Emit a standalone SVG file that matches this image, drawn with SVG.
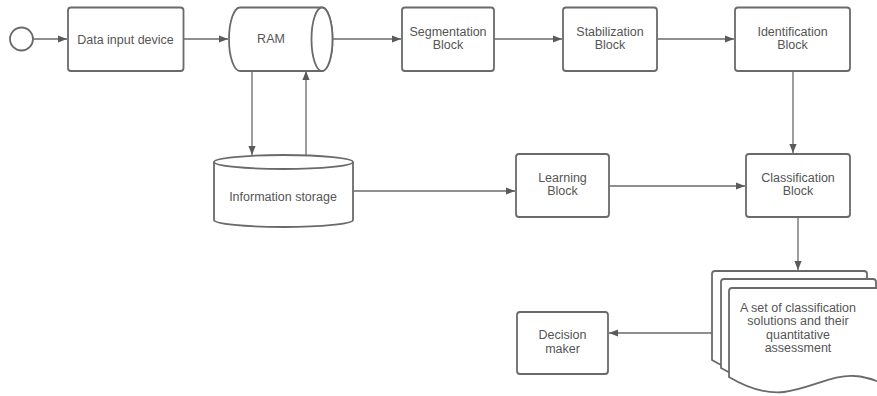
<svg xmlns="http://www.w3.org/2000/svg" width="877" height="396" viewBox="0 0 877 396">
<defs>
<style>
.n{fill:#fff;stroke:#6a6a6a;stroke-width:1.8}
.t{font-family:"Liberation Sans",Arial,sans-serif;font-size:12.5px;fill:#555;text-anchor:middle}
.c{fill:none;stroke:#6a6a6a;stroke-width:1.3}
</style>
<marker id="ah" viewBox="0 0 10 10" refX="10" refY="5" markerWidth="9" markerHeight="9" markerUnits="userSpaceOnUse" orient="auto">
<path d="M0,1 L10,5 L0,9 Z" fill="#5a5a5a"/>
</marker>
<path id="doc" d="M3,0 H152 Q155,0 155,3 V96 C148,93 140,89 126,88 C105,86 80,101 55,104 C35,106 15,98 0,89 V3 Q0,0 3,0 Z"/>
</defs>
<rect width="877" height="396" fill="#fff"/>

<g id="connectors">
<path class="c" d="M33,39 H67" marker-end="url(#ah)"/>
<path class="c" d="M184,39 H228" marker-end="url(#ah)"/>
<path class="c" d="M333,39 H401" marker-end="url(#ah)"/>
<path class="c" d="M494,39 H562" marker-end="url(#ah)"/>
<path class="c" d="M657,39 H734" marker-end="url(#ah)"/>
<path class="c" d="M252,71 V155" marker-end="url(#ah)"/>
<path class="c" d="M306,155 V71" marker-end="url(#ah)"/>
<path class="c" d="M793,71 V153" marker-end="url(#ah)"/>
<path class="c" d="M353,191 H515" marker-end="url(#ah)"/>
<path class="c" d="M609,186 H745" marker-end="url(#ah)"/>
<path class="c" d="M798,217 V270" marker-end="url(#ah)"/>
<path class="c" d="M712,333 H609" marker-end="url(#ah)"/>
</g>

<g id="start"><circle class="n" cx="21.5" cy="39" r="11.5"/></g>

<g id="data-input"><rect class="n" x="68" y="7.5" width="115.5" height="63.5" rx="3"/><text class="t" x="125.5" y="43.5">Data input device</text></g>

<g id="ram">
<path class="n" d="M240,7.5 H322 A10.5,31.75 0 0 1 322,71 H240 A11,31.75 0 0 1 240,7.5 Z"/>
<ellipse class="n" cx="322" cy="39.25" rx="10.5" ry="31.75"/>
<text class="t" x="271" y="42.5">RAM</text>
</g>

<g id="segmentation"><rect class="n" x="402" y="7.5" width="92" height="63.5" rx="3"/><text class="t" x="448" y="35.5">Segmentation</text><text class="t" x="448" y="49">Block</text></g>

<g id="stabilization"><rect class="n" x="563" y="7.5" width="94" height="63.5" rx="3"/><text class="t" x="610" y="35.5">Stabilization</text><text class="t" x="610" y="49">Block</text></g>

<g id="identification"><rect class="n" x="735" y="7.5" width="115" height="63.5" rx="3"/><text class="t" x="792.5" y="35.5">Identification</text><text class="t" x="792.5" y="49">Block</text></g>

<g id="storage">
<path class="n" d="M214,162 V220 A69.5,7 0 0 0 353,220 V162"/>
<ellipse class="n" cx="283.5" cy="162" rx="69.5" ry="7"/>
<text class="t" x="283" y="201">Information storage</text>
</g>

<g id="learning"><rect class="n" x="516" y="154" width="93" height="63" rx="3"/><text class="t" x="562.5" y="181.5">Learning</text><text class="t" x="562.5" y="195">Block</text></g>

<g id="classification"><rect class="n" x="746" y="154" width="104" height="63" rx="3"/><text class="t" x="798" y="181.5">Classification</text><text class="t" x="798" y="195">Block</text></g>

<g id="solutions">
<use href="#doc" class="n" x="712" y="271"/>
<use href="#doc" class="n" x="721" y="279"/>
<use href="#doc" class="n" x="729" y="288"/>
<text class="t" x="798" y="311.5">A set of classification</text>
<text class="t" x="798" y="325">solutions and their</text>
<text class="t" x="798" y="338.5">quantitative</text>
<text class="t" x="798" y="352">assessment</text>
</g>

<g id="decision"><rect class="n" x="517" y="312" width="91" height="62" rx="3"/><text class="t" x="562.5" y="339">Decision</text><text class="t" x="562.5" y="353">maker</text></g>
</svg>
